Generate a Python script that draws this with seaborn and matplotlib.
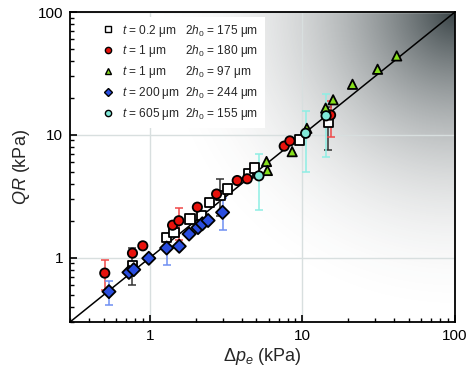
import numpy as np
import pandas as pd
import seaborn as sns
import matplotlib.pyplot as plt
from matplotlib.colors import LinearSegmentedColormap
from matplotlib.lines import Line2D
from matplotlib.ticker import LogLocator, FuncFormatter, NullFormatter

# --------------------------------------------------
# Data (kPa)
# --------------------------------------------------
sq_x = [0.77, 1.29, 1.44, 1.83, 2.18, 2.45, 2.90, 3.23, 4.42, 4.83, 9.53, 14.8]
sq_y = [0.87, 1.46, 1.60, 2.07, 2.20, 2.82, 3.20, 3.62, 4.88, 5.36, 9.10, 12.6]

rc_x = [0.507, 0.77, 0.90, 1.41, 1.55, 2.05, 2.74, 3.74, 4.35, 7.6, 8.28, 15.3]
rc_y = [0.75, 1.09, 1.25, 1.84, 2.00, 2.58, 3.30, 4.25, 4.39, 8.1, 8.93, 14.5]

bd_x = [0.54, 0.73, 0.785, 0.985, 1.29, 1.56, 1.81, 2.07, 2.21, 2.41, 3.0]
bd_y = [0.53, 0.76, 0.80, 0.99, 1.20, 1.24, 1.56, 1.76, 1.89, 2.01, 2.34]

gt_x = [5.82, 5.9, 8.57, 10.7, 14.2, 15.9, 21.3, 31.1, 41.5]
gt_y = [6.07, 5.13, 7.3, 11.3, 16.5, 19.3, 25.8, 34.2, 43.9]

cy_x = [5.19, 10.5, 14.3]
cy_y = [4.64, 10.3, 14.3]

# error bars: x, y, low, high
sq_err = ([0.77, 2.90, 14.8], [0.87, 3.20, 12.6], [0.60, 2.17, 7.5], [1.20, 4.36, 17.0])
rc_err = ([0.507, 1.55, 15.3], [0.75, 2.00, 14.5], [0.55, 1.40, 9.7], [0.96, 2.53, 18.7])
bd_err = ([0.54, 1.29, 3.0], [0.53, 1.20, 2.34], [0.41, 0.88, 1.67], [0.65, 1.49, 3.05])
cy_err = (cy_x, cy_y, [2.46, 5.03, 6.6], [7.0, 15.5, 21.6])

labels = [
    "$t$ = 0.2 μm   2$h_0$ = 175 μm",
    "$t$ = 1 μm      2$h_0$ = 180 μm",
    "$t$ = 1 μm      2$h_0$ = 97 μm",
    "$t$ = 200 μm  2$h_0$ = 244 μm",
    "$t$ = 605 μm  2$h_0$ = 155 μm",
]
lims = [0.3, 100]

series = [
    (sq_x, sq_y, labels[0]),
    (rc_x, rc_y, labels[1]),
    (gt_x, gt_y, labels[2]),
    (bd_x, bd_y, labels[3]),
    (cy_x, cy_y, labels[4]),
]
df = pd.concat(
    [pd.DataFrame({"dp": x, "QR": y, "set": lab}) for x, y, lab in series],
    ignore_index=True,
)

colors = {labels[0]: "white", labels[1]: "#e8120c", labels[2]: "#86de1c",
          labels[3]: "#2a4ee0", labels[4]: "#80e8d8"}
markers = {labels[0]: "s", labels[1]: "o", labels[2]: "^",
           labels[3]: "D", labels[4]: "o"}

# --------------------------------------------------
# Style
# --------------------------------------------------
sns.set_style("ticks")
plt.rcParams["font.family"] = ["Liberation Sans", "DejaVu Sans"]
plt.rcParams["mathtext.fontset"] = "custom"
plt.rcParams["mathtext.rm"] = "Liberation Sans"
plt.rcParams["mathtext.it"] = "Liberation Sans:italic"

fig = plt.figure(figsize=(4.7, 3.87), dpi=100)
ax = fig.add_axes([70 / 470, 1 - 322 / 387, 385 / 470, 310 / 387])

# grey shading toward the top-right corner
u, v = np.meshgrid(np.linspace(0, 1, 385), np.linspace(0, 1, 310))
d = np.hypot((1 - u) * 385, (1 - v) * 310)
shade = np.clip(1 - d / 320, 0, 1) ** 2.3
cmap = LinearSegmentedColormap.from_list("shade", ["white", "#3a4447"])
ax.imshow(shade, extent=(0, 1, 0, 1), transform=ax.transAxes, origin="lower",
          aspect="auto", cmap=cmap, vmin=0, vmax=1, zorder=0)

ax.set_xscale("log")
ax.set_yscale("log")
ax.set_xlim(lims)
ax.set_ylim(lims)

ax.grid(which="major", color="#d8dfdf", lw=1)
ax.set_axisbelow(True)

ax.axline((1, 1), (10, 10), color="black", lw=1.1, zorder=2)

# error bars
for (ex, ey, lo, hi), c in [(sq_err, "#333333"), (rc_err, "#f04848"),
                            (bd_err, "#6f8ff2"), (cy_err, "#8eeee4")]:
    ex, ey, lo, hi = map(np.array, (ex, ey, lo, hi))
    ax.errorbar(ex, ey, yerr=[ey - lo, hi - ey], fmt="none", ecolor=c,
                elinewidth=1.1, capsize=3, capthick=1.1, zorder=2.5)

sns.scatterplot(data=df, x="dp", y="QR", hue="set", style="set",
                palette=colors, markers=markers, s=45, edgecolor="black",
                linewidth=1.3, legend=False, ax=ax, zorder=3)

# axes
ax.xaxis.set_major_locator(LogLocator(base=10, numticks=10))
ax.yaxis.set_major_locator(LogLocator(base=10, numticks=10))
ax.xaxis.set_minor_locator(LogLocator(base=10, subs=np.arange(2, 10), numticks=10))
ax.yaxis.set_minor_locator(LogLocator(base=10, subs=np.arange(2, 10), numticks=10))
fmt = FuncFormatter(lambda val, pos: f"{val:g}")
ax.xaxis.set_major_formatter(fmt)
ax.yaxis.set_major_formatter(fmt)
ax.xaxis.set_minor_formatter(NullFormatter())
ax.yaxis.set_minor_formatter(NullFormatter())
ax.tick_params(which="both", direction="in", colors="black", labelsize=11)
ax.tick_params(which="major", length=5, width=1.2, pad=5)
ax.tick_params(which="minor", length=3, width=1)
for side in ["left", "right", "top", "bottom"]:
    ax.spines[side].set_visible(True)
    ax.spines[side].set_linewidth(1.3)
    ax.spines[side].set_color("black")

ax.set_xlabel("Δ$p_e$ (kPa)", fontsize=13, labelpad=2)
ax.set_ylabel("$QR$ (kPa)", fontsize=13, labelpad=4)

# legend
handles = [Line2D([], [], ls="none", marker=markers[lab], markersize=4.5,
                  markerfacecolor=colors[lab], markeredgecolor="black",
                  markeredgewidth=1) for lab in labels]
leg = ax.legend(handles, labels, loc="upper left",
                bbox_to_anchor=(0.065, 0.985), borderaxespad=0,
                frameon=True, facecolor="white", edgecolor="none",
                framealpha=1, fancybox=False, fontsize=8.6,
                handlelength=1.2, handletextpad=0.6, labelspacing=0.4,
                borderpad=0.5)
leg.set_zorder(4)

fig.savefig("out.png", dpi=100)
